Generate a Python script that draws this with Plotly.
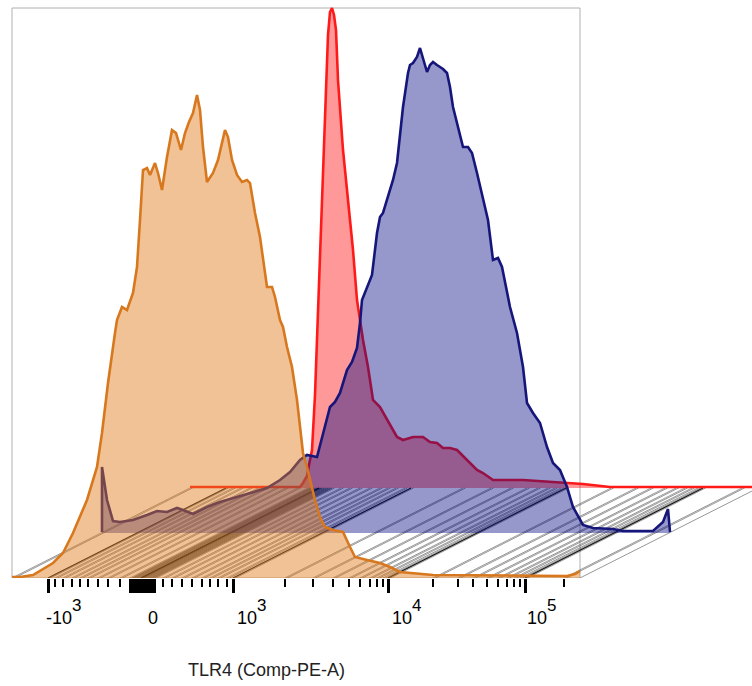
import plotly.graph_objects as go

# ---- data: display channel (biexponential scale) vs. count, normalized to mode ----
orange_x = [0, 8, 21, 41, 51, 61, 75, 85, 90, 96, 103, 105, 110, 115, 121, 125, 128, 131, 135, 138,
            143, 146, 150, 155, 160, 164, 169, 173, 177, 181, 185, 188, 191, 195, 201, 206, 213, 216,
            220, 225, 230, 235, 238, 243, 248, 251, 255, 260, 263, 268, 271, 275, 280, 285, 288, 291,
            295, 298, 303, 308, 313, 321, 331, 338, 343, 355, 368, 378, 388, 421, 505, 555, 563, 568]
orange_y = [1, 1, 3, 15, 25, 45, 78, 111, 145, 195, 245, 258, 271, 268, 285, 311, 358, 408, 410, 403,
            415, 405, 388, 421, 448, 445, 428, 445, 456, 465, 483, 468, 431, 396, 405, 418, 448, 441,
            418, 403, 396, 398, 395, 365, 341, 318, 291, 291, 281, 258, 251, 231, 211, 178, 151, 125,
            111, 98, 78, 61, 51, 48, 46, 31, 21, 18, 15, 11, 6, 3, 2, 2, 4, 7]

blue_x = [1, 1, 6, 12, 19, 32, 46, 56, 66, 76, 82, 92, 106, 119, 136, 152, 166, 179, 189, 199, 206,
          216, 222, 229, 234, 239, 246, 251, 256, 259, 261, 266, 271, 276, 279, 282, 286, 289, 292,
          296, 299, 302, 307, 309, 312, 316, 319, 322, 326, 329, 332, 336, 342, 346, 349, 352, 357,
          362, 367, 371, 376, 382, 387, 392, 397, 401, 406, 409, 416, 422, 426, 432, 439, 446, 452,
          459, 466, 472, 482, 492, 512, 522, 552, 562, 567, 569]
blue_y = [1, 66, 33, 12, 11, 13, 18, 22, 21, 25, 23, 19, 26, 31, 36, 41, 45, 53, 61, 73, 78,
          76, 98, 126, 131, 140, 163, 171, 185, 210, 233, 246, 258, 300, 316, 320, 333, 345, 353,
          370, 400, 426, 460, 468, 470, 476, 485, 475, 461, 468, 471, 468, 464, 460, 446, 426, 406,
          386, 386, 380, 360, 336, 313, 273, 275, 266, 240, 226, 200, 166, 130, 120, 110, 86, 70,
          63, 46, 26, 8, 5, 4, 2, 2, 11, 24, 1]

red_x = [0, 110, 113, 117, 119, 122, 125, 128, 132, 135, 138, 140, 142, 144, 146, 148, 153, 158,
         163, 167, 173, 178, 183, 190, 197, 207, 213, 223, 233, 240, 247, 253, 260, 267, 277, 287,
         293, 303, 333, 367, 393, 420, 568]
red_y = [1, 1, 5, 12, 23, 38, 93, 178, 288, 388, 453, 476, 480, 473, 458, 408, 338, 288,
         238, 188, 148, 121, 88, 81, 68, 51, 48, 51, 51, 46, 45, 40, 40, 38, 28, 18,
         15, 8, 8, 6, 4, 1, 1]

# axis ticks (biexponential positions, display channels)
major_vals = [36, 129, 221, 376, 513]
label_base = ["-10", "0", "10", "10", "10"]
label_exp = ["3", "", "3", "4", "5"]
zero_block = [118, 120, 122, 124, 126, 128, 130, 132, 134, 136, 138, 140, 142]
minor_vals = ([43, 51, 60, 68, 76, 86, 96, 108]
              + [151, 160, 170, 180, 190, 198, 206, 215]
              + [273, 301, 321, 337, 348, 358, 365, 371]
              + [421, 446, 461, 475, 486, 495, 502, 508]
              + [552])
x_title = "TLR4 (Comp-PE-A)"

# ---- styling ----
DX, DY = 89, 45          # per-layer offset (channels, counts)
X_MAX, Y_MAX = 568, 570  # frame extent
FONT = "Liberation Sans, Arial, sans-serif"
layers = [  # back to front
    (red_x, red_y, 2, "rgba(255,0,0,0.40)", "#ff1a1a"),
    (blue_x, blue_y, 1, "rgba(0,5,130,0.41)", "#16167a"),
    (orange_x, orange_y, 0, "rgba(225,125,30,0.47)", "#d8781e"),
]

fig = go.Figure()

# floor hatch lines (offset perspective)
all_ticks = sorted(set(major_vals + minor_vals + zero_block + [0, X_MAX]))
hx, hy = [], []
for t in all_ticks:
    for c in (t, t + 2.5):
        if c > X_MAX:
            continue
        hx += [c, c + 2 * DX, None]
        hy += [0, 2 * DY, None]
fig.add_trace(go.Scatter(x=hx, y=hy, mode="lines", line=dict(color="rgba(50,50,50,0.5)", width=1),
                         hoverinfo="skip", showlegend=False))
mx, my = [], []
for t in major_vals:
    mx += [t, t + 2 * DX, None]
    my += [0, 2 * DY, None]
fig.add_trace(go.Scatter(x=mx, y=my, mode="lines", line=dict(color="rgba(0,0,0,0.85)", width=1.2),
                         hoverinfo="skip", showlegend=False))

for xs, ys, k, fillc, linec in layers:
    ox, oy = k * DX, k * DY
    px = [xs[0] + ox] + [v + ox for v in xs] + [xs[-1] + ox]
    py = [oy] + [v + oy for v in ys] + [oy]
    fig.add_trace(go.Scatter(x=px, y=py, mode="lines", fill="toself", fillcolor=fillc,
                             line=dict(width=0), hoverinfo="skip", showlegend=False))
    fig.add_trace(go.Scatter(x=[v + ox for v in xs], y=[v + oy for v in ys], mode="lines",
                             line=dict(color=linec, width=2.6), hoverinfo="skip", showlegend=False))

# frame
fig.add_shape(type="rect", x0=0, x1=X_MAX, y0=0, y1=Y_MAX, layer="below",
              line=dict(color="#b0b0b0", width=1))

# tick labels: base text centred just right of tick, exponent raised at full size
base_shift = [11, 12, 14, 14, 12]
base_half = [13, 5, 10, 10, 10]
for v, b, e, s, h in zip(major_vals, label_base, label_exp, base_shift, base_half):
    fig.add_annotation(text=b, x=v, xref="x", xshift=s, y=-40 / 578, yref="paper",
                       xanchor="center", yanchor="middle", showarrow=False,
                       font=dict(family=FONT, size=18, color="black"))
    if e:
        fig.add_annotation(text=e, x=v, xref="x", xshift=s + h - 2.5, y=-27 / 578, yref="paper",
                           xanchor="left", yanchor="middle", showarrow=False,
                           font=dict(family=FONT, size=17, color="black"))

fig.add_annotation(text=x_title, x=254, xref="x", y=-92 / 578, yref="paper", showarrow=False,
                   xanchor="center", yanchor="middle",
                   font=dict(family=FONT, size=18, color="#222"))

fig.update_layout(
    width=752, height=686, margin=dict(l=0, r=0, t=0, b=108),
    plot_bgcolor="white", paper_bgcolor="white",
    xaxis=dict(range=[-12, 740], showgrid=False, zeroline=False, showline=False,
               tickmode="array", tickvals=major_vals + zero_block, showticklabels=False,
               ticks="outside", ticklen=14, tickwidth=3.2, tickcolor="black",
               minor=dict(tickmode="array", tickvals=minor_vals, ticks="outside", ticklen=8,
                          tickwidth=2, tickcolor="black", showgrid=False)),
    yaxis=dict(range=[0, 578], showgrid=False, zeroline=False, showline=False,
               showticklabels=False, ticks=""),
)

fig.write_html("out.html")
